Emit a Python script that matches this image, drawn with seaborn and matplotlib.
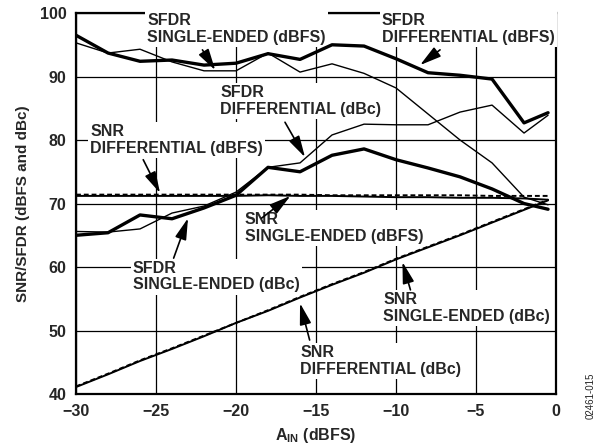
import matplotlib
matplotlib.use("Agg")
import matplotlib.pyplot as plt
import seaborn as sns

# input amplitude (dBFS)
ain = [-30, -28, -26, -24, -22, -20, -18, -16, -14, -12, -10, -8, -6, -4, -2, -0.5]

sfdr_diff_dbfs = [96.5, 93.7, 92.4, 92.6, 91.8, 92.1, 93.6, 92.7, 95.0, 94.8, 92.8, 90.6, 90.2, 89.6, 82.7, 84.3]
sfdr_se_dbfs = [95.3, 93.7, 94.3, 92.3, 90.9, 90.9, 93.7, 90.7, 92.0, 90.5, 88.2, 84.1, 80.0, 76.4, 71.0, 69.8]
sfdr_diff_dbc = [65.6, 65.5, 66.0, 68.5, 69.6, 71.8, 75.7, 76.4, 80.8, 82.5, 82.4, 82.4, 84.4, 85.5, 81.1, 83.9]
sfdr_se_dbc = [65.0, 65.4, 68.2, 67.6, 69.3, 71.3, 75.7, 75.0, 77.6, 78.6, 76.9, 75.6, 74.2, 72.3, 70.0, 69.1]
snr_diff_dbfs = [71.4, 71.4, 71.4, 71.4, 71.4, 71.4, 71.4, 71.4, 71.3, 71.3, 71.3, 71.3, 71.3, 71.2, 71.2, 71.2]
snr_se_dbfs = [71.2, 71.2, 71.2, 71.2, 71.2, 71.2, 71.3, 71.2, 71.2, 71.1, 71.0, 71.0, 70.9, 70.9, 70.8, 70.6]
snr_diff_dbc = [41.2, 43.2, 45.3, 47.2, 49.2, 51.2, 53.2, 55.3, 57.3, 59.2, 61.3, 63.2, 65.1, 67.1, 69.1, 70.6]
snr_se_dbc = [41.1, 43.1, 45.2, 47.1, 49.1, 51.2, 53.1, 55.2, 57.2, 59.1, 61.2, 63.1, 65.0, 67.0, 69.0, 70.5]

x_ticks = [-30, -25, -20, -15, -10, -5, 0]
y_ticks = [40, 50, 60, 70, 80, 90, 100]

sns.set_style("white")
plt.rcParams["font.family"] = ["Liberation Sans", "DejaVu Sans"]
plt.rcParams["font.weight"] = "bold"
plt.rcParams["mathtext.fontset"] = "custom"
plt.rcParams["mathtext.rm"] = "Liberation Sans:bold"
plt.rcParams["mathtext.bf"] = "Liberation Sans:bold"

fig = plt.figure(figsize=(6.01, 4.48), dpi=100)
ax = fig.add_axes([0.1265, 0.1205, 0.7987, 0.8504])

thick = 2.4
thin = 1.0
mid = 1.4
sns.lineplot(x=ain, y=sfdr_diff_dbfs, ax=ax, color="black", lw=thick, zorder=5)
sns.lineplot(x=ain, y=sfdr_se_dbfs, ax=ax, color="black", lw=thin, zorder=5)
sns.lineplot(x=ain, y=sfdr_diff_dbc, ax=ax, color="black", lw=thin, zorder=5)
sns.lineplot(x=ain, y=sfdr_se_dbc, ax=ax, color="black", lw=thick, zorder=5)
sns.lineplot(x=ain, y=snr_diff_dbfs, ax=ax, color="black", lw=mid, ls=(0, (2.5, 1.5)), zorder=5)
sns.lineplot(x=ain, y=snr_se_dbfs, ax=ax, color="black", lw=mid, zorder=5)
sns.lineplot(x=ain, y=snr_diff_dbc, ax=ax, color="black", lw=mid, ls=(0, (2.5, 1.5)), zorder=5)
sns.lineplot(x=ain, y=snr_se_dbc, ax=ax, color="black", lw=mid, zorder=5)

ax.set_xlim(-30, 0)
ax.set_ylim(40, 100)
ax.set_xticks(x_ticks)
ax.set_yticks(y_ticks)
ax.set_xticklabels([f"\u2212{-t}" if t < 0 else str(t) for t in x_ticks])
ax.set_yticklabels([str(t) for t in y_ticks])
ax.tick_params(length=0, labelsize=11.5, pad=7)
for lab in ax.get_xticklabels() + ax.get_yticklabels():
    lab.set_fontweight("bold")
ax.grid(True, color="black", lw=0.9, zorder=1)
ax.set_axisbelow(True)
for sp in ax.spines.values():
    sp.set_color("black")
    sp.set_linewidth(1.6)

ax.set_xlabel(r"A$_{\mathrm{IN}}$ (dBFS)", fontsize=11.5, fontweight="bold", labelpad=5)
ax.set_ylabel("SNR/SFDR (dBFS and dBc)", fontsize=11, fontweight="bold", labelpad=7)

# (text, text left/top, arrow start, arrow tip)
notes = [
    ("SFDR\nSINGLE-ENDED (dBFS)", (-25.56, 100.0), (-22.1, 94.2), (-21.3, 91.0)),
    ("SFDR\nDIFFERENTIAL (dBFS)", (-10.88, 100.0), (-7.25, 94.2), (-8.5, 91.8)),
    ("SFDR\nDIFFERENTIAL (dBc)", (-21.0, 88.6), (-16.94, 82.8), (-15.69, 77.3)),
    ("SNR\nDIFFERENTIAL (dBFS)", (-29.1, 82.5), (-25.8, 76.9), (-24.75, 71.65)),
    ("SNR\nSINGLE-ENDED (dBFS)", (-19.44, 68.6), (-18.4, 67.7), (-16.6, 71.2)),
    ("SFDR\nSINGLE-ENDED (dBc)", (-26.44, 61.0), (-23.9, 61.4), (-23.0, 67.7)),
    ("SNR\nSINGLE-ENDED (dBc)", (-10.81, 56.0), (-9.1, 56.4), (-9.6, 60.8)),
    ("SNR\nDIFFERENTIAL (dBc)", (-16.0, 47.7), (-15.4, 48.5), (-16.0, 54.3)),
]
for text, pos, start, tip in notes:
    ax.text(pos[0], pos[1], text, ha="left", va="top", fontsize=11.5, fontweight="bold",
            linespacing=1.15, zorder=4,
            bbox=dict(facecolor="white", edgecolor="none", pad=1.5))
    ax.annotate("", xy=tip, xytext=start, zorder=6,
                arrowprops=dict(arrowstyle="-|>,head_length=1.3,head_width=0.35",
                                color="black", lw=1.2, shrinkA=0, shrinkB=0))

fig.text(0.982, 0.065, "02461-015", rotation=90, fontsize=7, fontweight="normal",
         ha="center", va="bottom")

plt.savefig("out.png", dpi=100)
plt.close()
